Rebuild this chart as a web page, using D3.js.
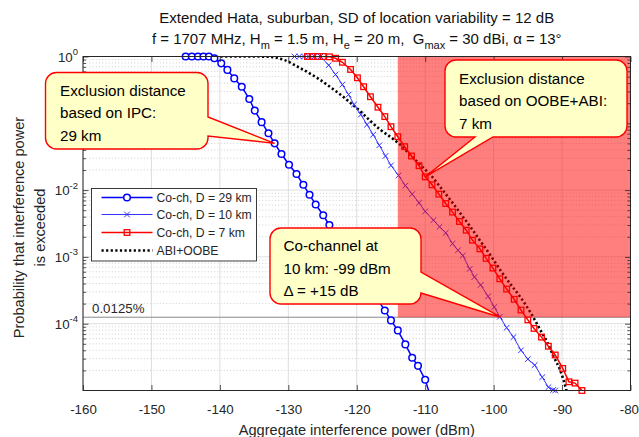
<!DOCTYPE html>
<html>
<head>
<meta charset="utf-8">
<script src="https://cdn.jsdelivr.net/npm/d3@7"></script>
<style>
  html, body { margin: 0; padding: 0; background: #fff; }
  svg { display: block; }
  text { font-family: "Liberation Sans", Arial, sans-serif; }
</style>
</head>
<body>
<svg id="chart" width="639" height="437"></svg>
<script>
// ---- data -------------------------------------------------------------
const xTicks = [-160, -150, -140, -130, -120, -110, -100, -90, -80];
const yTickExponents = [0, -1, -2, -3, -4];
// the 10^-1 label sits behind the IPC callout, so only these are written out
const yLabelExponents = [0, -2, -3, -4];
const seriesNames = ["Co-ch, D = 29 km", "Co-ch, D = 10 km", "Co-ch, D = 7 km", "ABI+OOBE"];

// [aggregate interference power (dBm), probability of exceedance]
const cochannel29km = [
  [-145.0, 1], [-144.1, 1], [-143.2, 1], [-142.4, 1], [-141.6, 1],
  [-140.8, 0.94], [-139.8, 0.79], [-138.9, 0.63], [-137.9, 0.47], [-136.8, 0.353],
  [-135.7, 0.231], [-134.9, 0.155], [-133.9, 0.104], [-132.9, 0.0708], [-132.0, 0.0501],
  [-131.0, 0.0347], [-129.9, 0.024], [-128.8, 0.0174], [-127.8, 0.012], [-126.9, 0.0085],
  [-126.0, 0.0061], [-124.9, 0.0042], [-124.0, 0.003], [-123.0, 0.00214], [-122.0, 0.00148],
  [-121.0, 0.00102], [-120.0, 0.00071], [-119.0, 0.00049], [-118.0, 0.00034], [-117.0, 0.000234],
  [-115.9, 0.000158], [-115.0, 0.000112], [-114.0, 0.0000794], [-112.9, 0.000049], [-111.9, 0.000031],
  [-111.05, 0.0000234], [-110.0, 0.0000145], [-109.4, 0.0000093]
];
const cochannel10km = [
  [-129.1, 1], [-128.4, 1], [-127.7, 1], [-127.0, 1], [-126.2, 1], [-125.3, 1],
  [-124.1, 0.741], [-123.1, 0.537], [-122.1, 0.38], [-121.2, 0.269], [-120.4, 0.191],
  [-119.4, 0.135], [-118.5, 0.0955], [-117.6, 0.0676], [-116.7, 0.0468], [-115.8, 0.0324],
  [-115.0, 0.0234], [-113.9, 0.0166], [-112.9, 0.0117], [-111.9, 0.0087], [-110.9, 0.00646],
  [-110.0, 0.00479], [-108.8, 0.00355], [-107.9, 0.00282], [-107.0, 0.00229], [-106.0, 0.00158],
  [-105.2, 0.00126], [-104.5, 0.00105], [-103.5, 0.00066], [-102.8, 0.0005], [-101.9, 0.00038],
  [-100.8, 0.000257], [-99.9, 0.000178], [-99.1, 0.000127], [-98.1, 0.000087], [-97.1, 0.000063],
  [-96.0, 0.00004], [-95.0, 0.0000295], [-94.0, 0.000024], [-92.9, 0.0000158], [-92.0, 0.0000112],
  [-91.3, 0.0000102], [-91.0, 0.00001]
];
const cochannel7km = [
  [-127.2, 1], [-126.5, 1], [-125.7, 1], [-124.9, 1], [-124.0, 0.99],
  [-123.1, 0.94], [-122.1, 0.82], [-120.9, 0.64], [-119.9, 0.48], [-119.0, 0.353],
  [-118.0, 0.25], [-116.9, 0.174], [-115.9, 0.126], [-115.0, 0.089], [-114.0, 0.063],
  [-113.0, 0.0447], [-112.0, 0.0324], [-110.9, 0.0232], [-110.0, 0.0158], [-109.0, 0.012],
  [-108.0, 0.0087], [-107.0, 0.0063], [-106.0, 0.00468], [-105.0, 0.00339], [-104.0, 0.00251],
  [-103.1, 0.00178], [-102.0, 0.00132], [-101.1, 0.00095], [-100.1, 0.00068], [-99.1, 0.00047],
  [-98.1, 0.00033], [-97.0, 0.000232], [-96.0, 0.00016], [-95.0, 0.000114], [-94.1, 0.000085],
  [-93.0, 0.000063], [-92.0, 0.000046], [-91.0, 0.000034], [-89.9, 0.0000214], [-89.0, 0.0000135],
  [-88.1, 0.0000129], [-87.1, 0.00001]
];
const abiOobe = [
  [-139.9, 1], [-136.0, 1], [-133.0, 0.993], [-130.6, 0.887], [-128.2, 0.665],
  [-125.7, 0.472], [-123.3, 0.316], [-122.3, 0.265], [-120.9, 0.201], [-119.4, 0.149],
  [-118.0, 0.108], [-116.5, 0.0794], [-114.8, 0.0596], [-113.6, 0.0473], [-112.1, 0.0331],
  [-110.7, 0.0237], [-109.2, 0.0168], [-107.8, 0.0111], [-106.3, 0.00708], [-104.85, 0.00447],
  [-103.4, 0.00282], [-101.9, 0.0017], [-100.5, 0.00107], [-99.0, 0.00063], [-97.6, 0.000398],
  [-96.1, 0.000251], [-94.4, 0.000135], [-93.2, 0.0000813], [-92.2, 0.0000537], [-91.25, 0.0000324],
  [-90.3, 0.0000204], [-89.8, 0.0000145], [-89.3, 0.0000095]
];

const thresholdProb = 1.25e-4;           // 0.0125 %
const thresholdLabel = "0.0125%";
const cochannel10kmLevel = -99;           // dBm where the 10 km curve meets the threshold
const marginDb = 15;                      // Δ

const titleLine1 = "Extended Hata, suburban, SD of location variability = 12 dB";
const titleLine2 = [
  ["f = 1707 MHz, H", ""], ["m", "sub"], [" = 1.5 m, H", ""], ["e", "sub"],
  [" = 20 m,  G", ""], ["max", "sub"], [" = 30 dBi, \u03B1 = 13\u00B0", ""]
];
const xLabel = "Aggregate interference power (dBm)";
const yLabelLines = ["Probability that interference power", "is exceeded"];

const calloutIPC = ["Exclusion distance", "based on IPC:", "29 km"];
const calloutOOBE = ["Exclusion distance", "based on OOBE+ABI:", "7 km"];
const calloutCoch = ["Co-channel at", "10 km: " + cochannel10kmLevel + " dBm", "\u0394 = +" + marginDb + " dB"];

// ---- layout -----------------------------------------------------------
const W = 639, H = 437;
const plot = { left: 83, right: 630.5, top: 56.5, bottom: 390.5 };
const axisColor = "#262626";
const sans = "'Liberation Sans', Arial, sans-serif";
const calloutFont = "Lato, 'Open Sans', sans-serif";

const x = d3.scaleLinear().domain([-160, -80]).range([plot.left, plot.right]);
const y = d3.scaleLog().domain([1e-5, 1]).range([plot.bottom, plot.top]);

const svg = d3.select("#chart");
svg.append("rect").attr("width", W).attr("height", H).attr("fill", "#fff");

svg.append("defs").append("clipPath").attr("id", "plot-clip")
  .append("rect")
  .attr("x", plot.left).attr("y", plot.top)
  .attr("width", plot.right - plot.left).attr("height", plot.bottom - plot.top);

// ---- grid -------------------------------------------------------------
const minorY = [];
for (let k = -5; k < 0; k++) for (let m = 2; m <= 9; m++) minorY.push(m * Math.pow(10, k));
const majorY = yTickExponents.map(e => Math.pow(10, e));

const grid = svg.append("g");
grid.selectAll(".gminor").data(minorY).join("line")
  .attr("x1", plot.left).attr("x2", plot.right)
  .attr("y1", d => y(d)).attr("y2", d => y(d))
  .attr("stroke", "#c4c4c4").attr("stroke-width", 0.8).attr("stroke-dasharray", "1,2.2");
grid.selectAll(".gmajy").data(majorY).join("line")
  .attr("x1", plot.left).attr("x2", plot.right)
  .attr("y1", d => y(d)).attr("y2", d => y(d))
  .attr("stroke", "#dedede").attr("stroke-width", 1);
grid.selectAll(".gmajx").data(xTicks).join("line")
  .attr("x1", d => x(d)).attr("x2", d => x(d))
  .attr("y1", plot.top).attr("y2", plot.bottom)
  .attr("stroke", "#dedede").attr("stroke-width", 1);

// threshold line
svg.append("line")
  .attr("x1", plot.left).attr("x2", plot.right)
  .attr("y1", y(thresholdProb)).attr("y2", y(thresholdProb))
  .attr("stroke", "#8a8a8a").attr("stroke-width", 1);

// ---- series -------------------------------------------------------------
const lineGen = d3.line().x(d => x(d[0])).y(d => y(d[1]));
const inView = d => d[1] >= 1e-5 && d[1] <= 1 && d[0] >= -160 && d[0] <= -80;
const curves = svg.append("g").attr("clip-path", "url(#plot-clip)");

curves.append("path").datum(abiOobe)
  .attr("d", d3.line().x(d => x(d[0])).y(d => y(d[1])).curve(d3.curveMonotoneX))
  .attr("fill", "none").attr("stroke", "#000").attr("stroke-width", 2.6)
  .attr("stroke-dasharray", "2.2,2.4");

curves.append("path").datum(cochannel10km).attr("d", lineGen)
  .attr("fill", "none").attr("stroke", "#3333ff").attr("stroke-width", 1);
curves.append("path").datum(cochannel29km).attr("d", lineGen)
  .attr("fill", "none").attr("stroke", "#0000ff").attr("stroke-width", 1.5);
curves.append("path").datum(cochannel7km).attr("d", lineGen)
  .attr("fill", "none").attr("stroke", "#ff0000").attr("stroke-width", 1.5);

const marks = svg.append("g");
marks.selectAll(".m10").data(cochannel10km.filter(inView)).join("path")
  .attr("transform", d => `translate(${x(d[0])},${y(d[1])})`)
  .attr("d", "M-2.8,-2.8L2.8,2.8M-2.8,2.8L2.8,-2.8")
  .attr("stroke", "#3333ff").attr("stroke-width", 1).attr("fill", "none");
marks.selectAll(".m29").data(cochannel29km.filter(inView)).join("circle")
  .attr("cx", d => x(d[0])).attr("cy", d => y(d[1])).attr("r", 3.3)
  .attr("fill", "#fff").attr("stroke", "#0000ff").attr("stroke-width", 1.5);
marks.selectAll(".m7").data(cochannel7km.filter(inView)).join("rect")
  .attr("x", d => x(d[0]) - 2.8).attr("y", d => y(d[1]) - 2.8)
  .attr("width", 5.6).attr("height", 5.6)
  .attr("fill", "none").attr("stroke", "#ff0000").attr("stroke-width", 1.3);

// ---- exclusion zone overlay ---------------------------------------------
svg.append("rect")
  .attr("x", x(cochannel10kmLevel - marginDb))
  .attr("y", y(1))
  .attr("width", x(-80) - x(cochannel10kmLevel - marginDb))
  .attr("height", y(thresholdProb) - y(1))
  .attr("fill", "#ff0000").attr("fill-opacity", 0.5);

// ---- axes -------------------------------------------------------------
function styleAxis(g) {
  g.attr("color", axisColor).attr("font-family", sans).attr("font-size", 13.3);
  g.select(".domain").remove();
  g.selectAll(".tick line").attr("stroke-width", 0.8);
}
const gxb = svg.append("g").attr("transform", `translate(0,${plot.bottom})`)
  .call(d3.axisBottom(x).tickValues(xTicks).tickSizeInner(-5.5).tickSizeOuter(0)
    .tickPadding(14).tickFormat(d => String(d)))
  .call(styleAxis);
gxb.selectAll("text").attr("fill", axisColor);
// keep the right-most label inside the page
gxb.selectAll(".tick text").filter(d => d === xTicks[xTicks.length - 1])
  .attr("text-anchor", "end").attr("x", (W - 0.5) - plot.right);

svg.append("g").attr("transform", `translate(0,${plot.top})`)
  .call(d3.axisTop(x).tickValues(xTicks).tickSizeInner(-5.5).tickSizeOuter(0).tickFormat(""))
  .call(styleAxis);
[["L", plot.left], ["R", plot.right]].forEach(([side, pos]) => {
  const mk = side === "L" ? d3.axisLeft : d3.axisRight;
  svg.append("g").attr("transform", `translate(${pos},0)`)
    .call(mk(y).tickValues(majorY).tickSizeInner(-5.5).tickSizeOuter(0).tickFormat(""))
    .call(styleAxis);
  svg.append("g").attr("transform", `translate(${pos},0)`)
    .call(mk(y).tickValues(minorY).tickSizeInner(-3).tickSizeOuter(0).tickFormat(""))
    .call(styleAxis);
});
svg.append("rect")
  .attr("x", plot.left).attr("y", plot.top)
  .attr("width", plot.right - plot.left).attr("height", plot.bottom - plot.top)
  .attr("fill", "none").attr("stroke", axisColor).attr("stroke-width", 1);

// y tick labels 10^n
const yLab = svg.append("g").attr("font-family", sans).attr("fill", axisColor);
yLabelExponents.forEach(e => {
  const t = yLab.append("text").attr("x", plot.left - 5).attr("y", y(Math.pow(10, e)) + 5)
    .attr("text-anchor", "end").attr("font-size", 13.3);
  t.append("tspan").text("10");
  t.append("tspan").attr("dy", -6.5).attr("font-size", 9.5).text(String(e));
});

// axis titles
svg.append("text").attr("x", (plot.left + plot.right) / 2).attr("y", 434.5)
  .attr("text-anchor", "middle").attr("font-size", 14.6).attr("fill", axisColor)
  .text(xLabel);
const yl = svg.append("g").attr("transform", `translate(0,${(plot.top + plot.bottom) / 2 + 4}) rotate(-90)`);
yLabelLines.forEach((s, i) => {
  yl.append("text").attr("x", 0).attr("y", 23.5 + i * 21)
    .attr("text-anchor", "middle").attr("font-size", 14.6).attr("fill", axisColor).text(s);
});

// title
const cx = (plot.left + plot.right) / 2;
svg.append("text").attr("x", cx).attr("y", 23).attr("text-anchor", "middle")
  .attr("font-size", 15).attr("fill", "#111").text(titleLine1);
const t2 = svg.append("text").attr("x", cx).attr("y", 43.5).attr("text-anchor", "middle")
  .attr("font-size", 15).attr("fill", "#111").style("white-space", "pre");
titleLine2.forEach(([s, kind]) => {
  if (kind === "sub") {
    t2.append("tspan").attr("dy", 5).attr("font-size", 11).text(s);
  } else {
    const sp = t2.append("tspan").text(s);
    if (t2.selectAll("tspan").size() > 1) sp.attr("dy", -5);
  }
});

// threshold label
svg.append("text").attr("x", plot.left + 9).attr("y", y(thresholdProb) - 4)
  .attr("font-size", 13.3).attr("fill", axisColor).text(thresholdLabel);

// ---- legend -------------------------------------------------------------
const lg = svg.append("g").attr("transform", "translate(91.5,188.5)");
lg.append("rect").attr("width", 165).attr("height", 72.5)
  .attr("fill", "#fff").attr("stroke", axisColor).attr("stroke-width", 0.9);
const rows = [
  { name: seriesNames[0], color: "#0000ff", w: 1.5, mark: "circle" },
  { name: seriesNames[1], color: "#3333ff", w: 1, mark: "x" },
  { name: seriesNames[2], color: "#ff0000", w: 1.5, mark: "square" },
  { name: seriesNames[3], color: "#000", w: 2.6, mark: "dot" }
];
const rowY = [9, 26, 44, 62];
rows.forEach((r, i) => {
  const g = lg.append("g").attr("transform", `translate(0,${rowY[i]})`);
  const ln = g.append("line").attr("x1", 10).attr("x2", 61).attr("y1", 0).attr("y2", 0)
    .attr("stroke", r.color).attr("stroke-width", r.w);
  if (r.mark === "dot") ln.attr("stroke-dasharray", "2.2,2.4");
  if (r.mark === "circle") g.append("circle").attr("cx", 35.5).attr("r", 3.3)
    .attr("fill", "#fff").attr("stroke", r.color).attr("stroke-width", 1.5);
  if (r.mark === "x") g.append("path").attr("transform", "translate(35.5,0)")
    .attr("d", "M-2.8,-2.8L2.8,2.8M-2.8,2.8L2.8,-2.8").attr("stroke", r.color).attr("stroke-width", 1);
  if (r.mark === "square") g.append("rect").attr("x", 32.7).attr("y", -2.8)
    .attr("width", 5.6).attr("height", 5.6).attr("fill", "none")
    .attr("stroke", r.color).attr("stroke-width", 1.3);
  g.append("text").attr("x", 65).attr("y", 4.3).attr("font-size", 12.2)
    .attr("fill", axisColor).text(r.name);
});

// ---- callouts -----------------------------------------------------------
function calloutPath(b, w) {
  const { x0, y0, x1, y1, r } = b;
  const [tx, ty] = w.tip;
  let p = `M${x0 + r},${y0} H${x1 - r} A${r},${r} 0 0 1 ${x1},${y0 + r} `;
  if (w.side === "right") p += `V${w.a} L${tx},${ty} L${x1},${w.b} `;
  p += `V${y1 - r} A${r},${r} 0 0 1 ${x1 - r},${y1} `;
  if (w.side === "bottom") p += `H${w.b} L${tx},${ty} L${w.a},${y1} `;
  p += `H${x0 + r} A${r},${r} 0 0 1 ${x0},${y1 - r} V${y0 + r} A${r},${r} 0 0 1 ${x0 + r},${y0} Z`;
  return p;
}
function drawCallout(box, wedge, lines, textX, lineY) {
  const g = svg.append("g");
  g.append("path").attr("d", calloutPath(box, wedge))
    .attr("fill", "#ffffc8").attr("stroke", "#ff0000").attr("stroke-width", 1.4)
    .attr("stroke-linejoin", "miter");
  lines.forEach((s, i) => {
    g.append("text").attr("x", textX).attr("y", lineY[i]).attr("font-family", calloutFont)
      .attr("font-size", 15.2).attr("fill", "#000").text(s);
  });
}
const find = (arr, v) => arr.find(d => d[0] === v);
const ipcPoint = find(cochannel29km, -132.0);
const oobePoint = find(cochannel7km, -110.0);

drawCallout({ x0: 45.5, y0: 72.5, x1: 208, y1: 149, r: 11 },
  { side: "right", a: 117, b: 136, tip: [x(ipcPoint[0]), y(ipcPoint[1])] },
  calloutIPC, 60, [95.5, 118, 140.5]);
drawCallout({ x0: 445, y0: 60, x1: 627, y1: 137, r: 11 },
  { side: "bottom", a: 475, b: 493, tip: [x(oobePoint[0]), y(oobePoint[1])] },
  calloutOOBE, 459, [83.5, 106, 128.5]);
drawCallout({ x0: 270, y0: 228, x1: 421, y1: 304, r: 11 },
  { side: "right", a: 272, b: 293, tip: [x(cochannel10kmLevel), y(thresholdProb)] },
  calloutCoch, 283.5, [250.5, 273.5, 296]);
</script>
</body>
</html>
